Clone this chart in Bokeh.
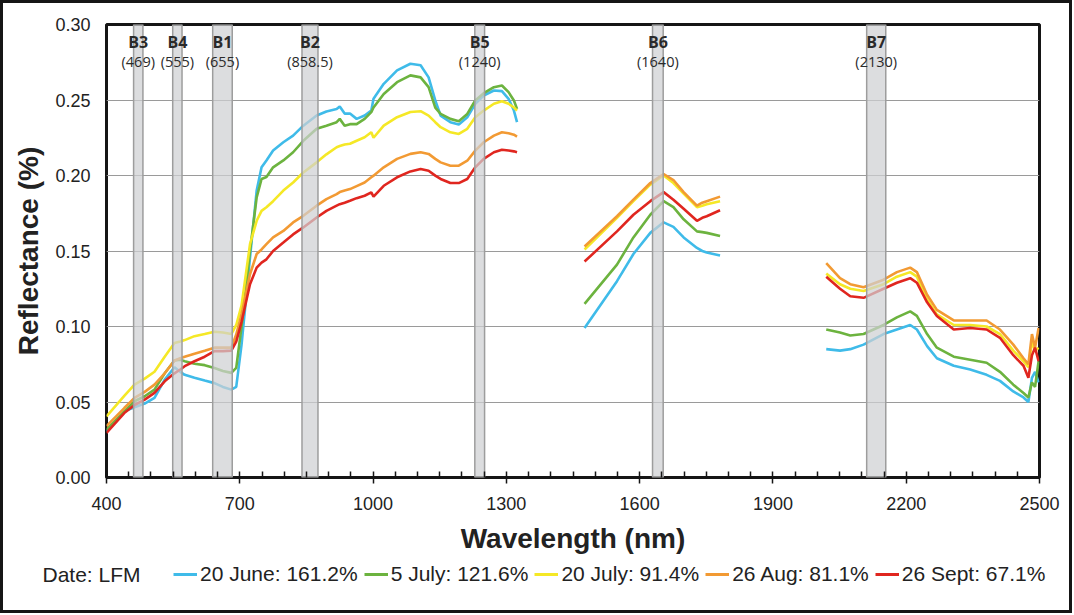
from bokeh.plotting import figure
from bokeh.layouts import column
from bokeh.models import (FixedTicker, Legend, LegendItem, Range1d, Label,
                          NumeralTickFormatter, ColumnDataSource)
from bokeh.core.properties import value
from bokeh.embed import file_html
from bokeh.resources import INLINE

# ---------------- data ----------------
series_names = ["20 June: 161.2%", "5 July: 121.6%", "20 July: 91.4%",
                "26 Aug: 81.1%", "26 Sept: 67.1%"]
series_colors = ["#3fbbe9", "#6cb33f", "#f5e826", "#f29a33", "#e0261f"]
legend_title = "Date: LFM"

# segment 1 : 400 - 1325 nm
wl_1 = [400, 440, 463, 486, 508, 531, 553, 566, 576, 598, 621, 643, 662, 681, 692,
        704, 723, 738, 749, 760, 775, 798, 820, 843, 873, 895, 918, 925, 936, 948,
        963, 981, 996, 1001, 1024, 1054, 1084, 1107, 1125, 1140, 1152, 1174, 1193,
        1212, 1230, 1249, 1272, 1290, 1305, 1317, 1324]
june_1 = [0.0305, 0.0438, 0.0465, 0.0490, 0.0527, 0.0648, 0.0730, 0.0700, 0.0680,
          0.0660, 0.0642, 0.0625, 0.0600, 0.0582, 0.0600, 0.0880, 0.1456, 0.1900,
          0.2054, 0.2100, 0.2165, 0.2220, 0.2264, 0.2330, 0.2397, 0.2424, 0.2440,
          0.2457, 0.2410, 0.2410, 0.2375, 0.2397, 0.2430, 0.2508, 0.2607, 0.2696,
          0.2740, 0.2730, 0.2650, 0.2497, 0.2397, 0.2353, 0.2337, 0.2386, 0.2475,
          0.2530, 0.2563, 0.2559, 0.2508, 0.2430, 0.2353]
july5_1 = [0.0317, 0.0438, 0.0505, 0.0538, 0.0582, 0.0690, 0.0775, 0.0780, 0.0770,
           0.0753, 0.0744, 0.0725, 0.0705, 0.0693, 0.0726, 0.1000, 0.1500, 0.1855,
           0.1977, 0.1990, 0.2054, 0.2100, 0.2154, 0.2230, 0.2309, 0.2330, 0.2353,
           0.2375, 0.2330, 0.2340, 0.2340, 0.2375, 0.2420, 0.2450, 0.2540, 0.2618,
           0.2663, 0.2650, 0.2585, 0.2450, 0.2408, 0.2375, 0.2360, 0.2408, 0.2497,
           0.2545, 0.2585, 0.2596, 0.2552, 0.2497, 0.2441]
july20_1 = [0.0405, 0.0540, 0.0615, 0.0655, 0.0700, 0.0800, 0.0890, 0.0900, 0.0910,
            0.0936, 0.0950, 0.0965, 0.0960, 0.0950, 0.1010, 0.1140, 0.1545, 0.1700,
            0.1766, 0.1790, 0.1830, 0.1900, 0.1954, 0.2020, 0.2087, 0.2140, 0.2187,
            0.2195, 0.2205, 0.2210, 0.2230, 0.2253, 0.2286, 0.2250, 0.2330, 0.2386,
            0.2420, 0.2426, 0.2397, 0.2353, 0.2320, 0.2286, 0.2275, 0.2309, 0.2386,
            0.2430, 0.2475, 0.2492, 0.2475, 0.2450, 0.2430]
aug_1 = [0.0340, 0.0460, 0.0527, 0.0567, 0.0615, 0.0690, 0.0775, 0.0790, 0.0800,
         0.0820, 0.0840, 0.0860, 0.0860, 0.0860, 0.0947, 0.1080, 0.1346, 0.1480,
         0.1510, 0.1545, 0.1590, 0.1633, 0.1689, 0.1733, 0.1800, 0.1844, 0.1877,
         0.1890, 0.1900, 0.1910, 0.1930, 0.1954, 0.1988, 0.1999, 0.2054, 0.2110,
         0.2143, 0.2154, 0.2143, 0.2110, 0.2087, 0.2065, 0.2065, 0.2098, 0.2165,
         0.2220, 0.2264, 0.2286, 0.2280, 0.2270, 0.2258]
sept_1 = [0.0295, 0.0427, 0.0480, 0.0516, 0.0560, 0.0637, 0.0690, 0.0715, 0.0737,
          0.0770, 0.0800, 0.0837, 0.0837, 0.0840, 0.0900, 0.1030, 0.1280, 0.1390,
          0.1423, 0.1445, 0.1500, 0.1556, 0.1610, 0.1656, 0.1722, 0.1766, 0.1800,
          0.1810, 0.1820, 0.1833, 0.1850, 0.1866, 0.1888, 0.1860, 0.1932, 0.1988,
          0.2027, 0.2043, 0.2032, 0.1999, 0.1977, 0.1950, 0.1950, 0.1977, 0.2054,
          0.2110, 0.2154, 0.2171, 0.2165, 0.2160, 0.2154]

# segment 2 : 1475 - 1780 nm
wl_2 = [1476, 1549, 1586, 1624, 1654, 1676, 1699, 1729, 1741, 1751, 1781]
june_2 = [0.099, 0.130, 0.148, 0.162, 0.169, 0.166, 0.159, 0.152, 0.150, 0.149, 0.147]
july5_2 = [0.115, 0.141, 0.159, 0.174, 0.183, 0.179, 0.171, 0.163, 0.1625, 0.162, 0.160]
july20_2 = [0.151, 0.172, 0.183, 0.194, 0.200, 0.195, 0.188, 0.179, 0.180, 0.181, 0.183]
aug_2 = [0.153, 0.173, 0.184, 0.195, 0.201, 0.197, 0.189, 0.180, 0.182, 0.183, 0.186]
sept_2 = [0.143, 0.163, 0.174, 0.183, 0.189, 0.184, 0.178, 0.170, 0.172, 0.173, 0.177]

# segment 3 : 2020 - 2500 nm
wl_3 = [2020, 2051, 2074, 2104, 2149, 2179, 2209, 2224, 2247, 2269, 2307, 2344,
        2381, 2411, 2441, 2464, 2475, 2483, 2490, 2498]
june_3 = [0.085, 0.084, 0.085, 0.088, 0.095, 0.098, 0.101, 0.098, 0.087, 0.079,
          0.074, 0.0715, 0.068, 0.064, 0.057, 0.053, 0.050, 0.066, 0.070, 0.063]
july5_3 = [0.098, 0.096, 0.094, 0.095, 0.101, 0.106, 0.110, 0.107, 0.095, 0.086,
           0.080, 0.078, 0.076, 0.070, 0.0615, 0.056, 0.053, 0.063, 0.060, 0.077]
july20_3 = [0.135, 0.128, 0.125, 0.1235, 0.128, 0.133, 0.136, 0.133, 0.118, 0.108,
            0.101, 0.101, 0.100, 0.095, 0.084, 0.077, 0.073, 0.090, 0.084, 0.086]
aug_3 = [0.142, 0.132, 0.128, 0.126, 0.131, 0.136, 0.139, 0.136, 0.121, 0.111,
         0.104, 0.104, 0.104, 0.098, 0.088, 0.079, 0.075, 0.095, 0.086, 0.099]
sept_3 = [0.133, 0.125, 0.120, 0.119, 0.125, 0.129, 0.132, 0.129, 0.116, 0.107,
          0.098, 0.099, 0.098, 0.0925, 0.081, 0.074, 0.066, 0.081, 0.086, 0.077]

# MODIS bands
band_names = ["B3", "B4", "B1", "B2", "B5", "B6", "B7"]
band_centres = ["(469)", "(555)", "(655)", "(858.5)", "(1240)", "(1640)", "(2130)"]
band_lo = [461, 549, 639, 840, 1229, 1629, 2111]
band_hi = [482, 570, 683, 876, 1251, 1653, 2154]

x_ticks = [400, 700, 1000, 1300, 1600, 1900, 2200, 2500]
x_minor = list(range(400, 2501, 50))
y_ticks = [0.00, 0.05, 0.10, 0.15, 0.20, 0.25, 0.30]

TXT = "#222222"

# ---------------- main figure ----------------
p = figure(width=1066, height=557, x_range=Range1d(400, 2500), y_range=Range1d(0, 0.30),
           output_backend="svg", toolbar_location=None, title=None,
           min_border_left=103, min_border_right=30, min_border_top=21,
           min_border_bottom=83)
p.frame_align = False
p.background_fill_color = "white"
p.border_fill_color = "white"
p.outline_line_color = "#151515"
p.outline_line_width = 3

for ax in (p.xaxis[0], p.yaxis[0]):
    ax.axis_line_color = None
    ax.major_label_text_font = "Liberation Sans"
    ax.major_label_text_font_size = "18px"
    ax.major_label_text_color = TXT
    ax.axis_label_text_font = "Liberation Sans"
    ax.axis_label_text_font_size = "28px"
    ax.axis_label_text_font_style = "bold"
    ax.axis_label_text_color = TXT

p.xaxis.ticker = FixedTicker(ticks=x_ticks, minor_ticks=x_minor)
p.xaxis.major_tick_out = 6
p.xaxis.major_tick_in = 0
p.xaxis.minor_tick_in = 6
p.xaxis.minor_tick_out = 0
p.xaxis.major_tick_line_color = "#151515"
p.xaxis.minor_tick_line_color = "#151515"
p.xaxis.major_tick_line_width = 1.5
p.xaxis.minor_tick_line_width = 1.5
p.xaxis.major_label_standoff = 13
p.xaxis.axis_label = "Wavelength (nm)"
p.xaxis.axis_label_standoff = 10

p.yaxis.ticker = FixedTicker(ticks=y_ticks)
p.yaxis.formatter = NumeralTickFormatter(format="0.00")
p.yaxis.major_tick_out = 0
p.yaxis.major_tick_in = 0
p.yaxis.minor_tick_line_color = None
p.yaxis.major_label_standoff = 16
p.yaxis.axis_label = "Reflectance (%)"
p.yaxis.axis_label_standoff = 8

p.xgrid.visible = False
p.ygrid.ticker = FixedTicker(ticks=y_ticks)
p.ygrid.grid_line_color = "#9a9a9a"
p.ygrid.grid_line_width = 1.2

segments = [
    (wl_1, [june_1, july5_1, july20_1, aug_1, sept_1]),
    (wl_2, [june_2, july5_2, july20_2, aug_2, sept_2]),
    (wl_3, [june_3, july5_3, july20_3, aug_3, sept_3]),
]

for wl, sets in segments:
    for i, vals in enumerate(sets):
        p.line(wl, vals, line_color=series_colors[i], line_width=2.6)

# band rectangles drawn over the spectra (semi transparent)
band_src = ColumnDataSource(dict(
    lo=band_lo, hi=band_hi,
    mid=[(a + b) / 2 for a, b in zip(band_lo, band_hi)],
    name=band_names, centre=band_centres))
p.quad(left="lo", right="hi", bottom=0, top=0.30, source=band_src,
       fill_color="#cfd0d3", fill_alpha=0.72, line_color="#9d9d9d", line_width=1.5)

p.text(x="mid", y=0.2885, text="name", source=band_src, text_align="center",
       text_baseline="middle", text_font=value("Open Sans"), text_font_style="bold",
       text_font_size="16px", text_color="#2a2a2a")
p.text(x="mid", y=0.2755, text="centre", source=band_src, text_align="center",
       text_baseline="middle", text_font=value("Open Sans"),
       text_font_size="14.5px", text_color="#2a2a2a")

# ---------------- legend strip ----------------
lg = figure(width=1066, height=50, x_range=Range1d(0, 1), y_range=Range1d(0, 1),
            output_backend="svg", toolbar_location=None, title=None,
            x_axis_location=None, y_axis_location=None, min_border=0)
lg.frame_align = False
lg.outline_line_color = None
lg.xgrid.visible = False
lg.ygrid.visible = False

keys = [lg.line([0], [0], line_color=c, line_width=3) for c in series_colors]
items = [LegendItem(label=n, renderers=[keys[i]]) for i, n in enumerate(series_names)]
legend = Legend(items=items, orientation="horizontal", location=(170, 24),
                glyph_width=24, glyph_height=24, label_height=24, label_standoff=3,
                spacing=6, padding=0, margin=0, border_line_color=None,
                background_fill_alpha=0, label_text_font="Liberation Sans",
                label_text_font_size="21px", label_text_color=TXT)
lg.add_layout(legend)
lg.add_layout(Label(x=39, y=36, x_units="screen", y_units="screen", text=legend_title,
                    text_baseline="middle", text_font="Liberation Sans",
                    text_font_size="21px", text_color=TXT))

layout = column(p, lg, spacing=0)
layout.styles = {"border": "3px solid #151515", "box-sizing": "content-box",
                 "background-color": "white"}

open("out.html", "w").write(file_html(layout, INLINE))
